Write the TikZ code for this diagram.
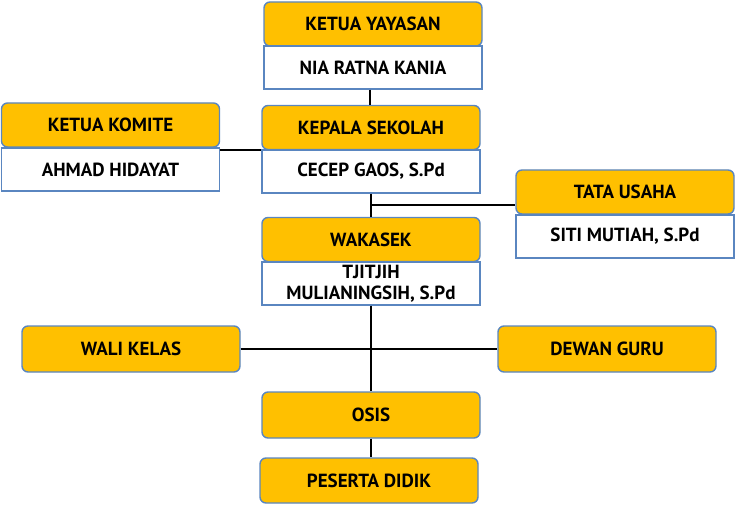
\documentclass[tikz,border=0pt]{standalone}
\usepackage{fontspec}
\setmainfont{PT Sans}
\begin{document}
\begin{tikzpicture}[x=1pt,y=-1pt,
  ybox/.style={draw=bordc,line width=1.4pt,fill=yel,rounded corners=6pt,minimum width=218pt,minimum height=44pt,inner sep=0pt,font=\bfseries\fontsize{19}{19}\selectfont,text=black},
  wbox/.style={draw=bordc,line width=1.4pt,fill=white,minimum width=218pt,minimum height=43pt,inner sep=0pt,align=center,font=\bfseries\fontsize{19}{19}\selectfont,text=black},
  conn/.style={line width=2.2pt,black}]
\definecolor{yel}{HTML}{FFC000}
\definecolor{bordc}{HTML}{5A86C0}
\useasboundingbox (0,0) rectangle (736,505);
\node[ybox] (yay) at (373,24) {KETUA YAYASAN};
\node[wbox] (yayw) at (373,67.5) {NIA RATNA KANIA};
\node[ybox] (kep) at (371,127.5) {KEPALA SEKOLAH};
\node[wbox] (kepw) at (371,171.5) {CECEP GAOS, S.Pd};
\node[ybox] (kom) at (110.5,125) {KETUA KOMITE};
\node[wbox] (komw) at (110.5,169.5) {AHMAD HIDAYAT};
\node[ybox] (tu) at (625,192) {TATA USAHA};
\node[wbox] (tuw) at (625,236.5) {SITI MUTIAH, S.Pd};
\node[ybox] (wak) at (371,239.5) {WAKASEK};
\node[wbox,font=\bfseries\fontsize{19}{21}\selectfont] (wakw) at (371,283.5) {TJITJIH\\MULIANINGSIH, S.Pd};
\node[ybox,minimum height=46pt] (wali) at (131,349) {WALI KELAS};
\node[ybox,minimum height=46pt] (dewan) at (607,349) {DEWAN GURU};
\node[ybox,minimum height=46pt] (osis) at (371,415) {OSIS};
\node[ybox,minimum height=45pt] (pd) at (369,480.5) {PESERTA DIDIK};
\coordinate (j1) at (370,205);
\draw[conn] (kep.north) ++(-1,0) coordinate (k1) (k1 |- yayw.south) -- (k1);
\draw[conn] (komw.east |- 0,150) -- (kepw.west |- 0,150);
\draw[conn] (kepw.south) -- (wak.north);
\draw[conn] (j1) -- (tu.west |- j1);
\draw[conn] (wakw.south) -- (osis.north);
\draw[conn] (wali.east) -- (dewan.west);
\draw[conn] (osis.south) -- (osis.south |- pd.north);
\end{tikzpicture}
\end{document}
